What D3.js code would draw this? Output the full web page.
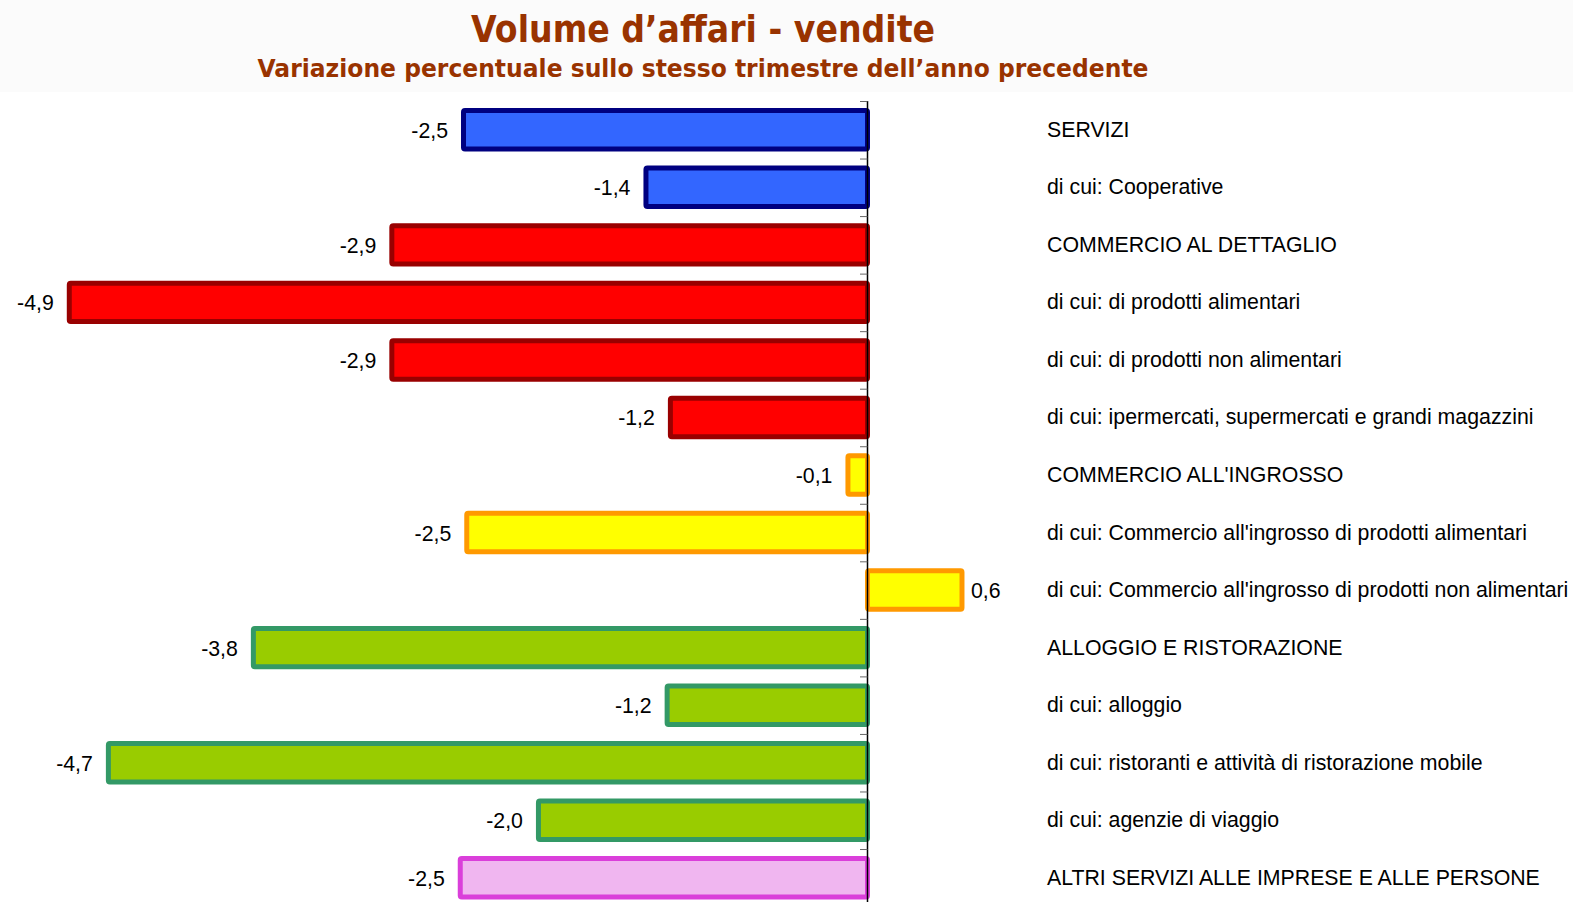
<!DOCTYPE html>
<html><head><meta charset="utf-8">
<script src="https://cdn.jsdelivr.net/npm/d3@7"></script>
<style>html,body{margin:0;padding:0;background:#fff;}svg{display:block;}</style>
</head><body>
<script>
const categories = [
  "SERVIZI",
  "di cui: Cooperative",
  "COMMERCIO AL DETTAGLIO",
  "di cui: di prodotti alimentari",
  "di cui: di prodotti non alimentari",
  "di cui: ipermercati, supermercati e grandi magazzini",
  "COMMERCIO ALL'INGROSSO",
  "di cui: Commercio all'ingrosso di prodotti alimentari",
  "di cui: Commercio all'ingrosso di prodotti non alimentari",
  "ALLOGGIO E RISTORAZIONE",
  "di cui: alloggio",
  "di cui: ristoranti e attività di ristorazione mobile",
  "di cui: agenzie di viaggio",
  "ALTRI SERVIZI ALLE IMPRESE E ALLE PERSONE"
];
const values = [-2.48, -1.36, -2.92, -4.9, -2.92, -1.21, -0.12, -2.46, 0.58, -3.77, -1.23, -4.66, -2.02, -2.5];
const groups = ["servizi","servizi","dettaglio","dettaglio","dettaglio","dettaglio","ingrosso","ingrosso","ingrosso","alloggio","alloggio","alloggio","alloggio","altri"];
const groupNames = ["servizi","dettaglio","ingrosso","alloggio","altri"];
const fills = ["#3366FF","#FF0000","#FFFF00","#99CC00","#F0B6F0"];
const strokes = ["#000080","#990000","#FF9900","#339966","#DA3FDA"];
const title = "Volume d\u2019affari - vendite";
const subtitle = "Variazione percentuale sullo stesso trimestre dell\u2019anno precedente";

const W = 1573, H = 902;
const svg = d3.select("body").append("svg").attr("width", W).attr("height", H);

svg.append("rect").attr("x",0).attr("y",0).attr("width",W).attr("height",92).attr("fill","#fbfbfb");

svg.append("text").attr("x",703).attr("y",42).attr("text-anchor","middle")
  .attr("font-family","DejaVu Sans").attr("font-weight","bold").attr("font-size",38)
  .attr("fill","#993300").attr("textLength",464).attr("lengthAdjust","spacingAndGlyphs").text(title);
svg.append("text").attr("x",703).attr("y",77).attr("text-anchor","middle")
  .attr("font-family","DejaVu Sans").attr("font-weight","bold").attr("font-size",25.5)
  .attr("fill","#993300").attr("textLength",891).attr("lengthAdjust","spacingAndGlyphs").text(subtitle);

const x = d3.scaleLinear().domain([-5, 1]).range([867.5 - 5*162.9, 867.5 + 162.9]);
const step0 = 57.54;
const y = d3.scaleBand().domain(categories).range([101, 101 + 14*step0]).paddingInner(0.332).paddingOuter(0.166);
const fillC = d3.scaleOrdinal().domain(groupNames).range(fills);
const strokeC = d3.scaleOrdinal().domain(groupNames).range(strokes);

const data = categories.map((c,i)=>({c, v: values[i], g: groups[i]}));

svg.append("g").selectAll("rect").data(data).join("rect")
  .attr("x", d => x(Math.min(0,d.v)))
  .attr("y", d => y(d.c))
  .attr("width", d => Math.abs(x(d.v) - x(0)))
  .attr("height", y.bandwidth())
  .attr("fill", d => fillC(d.g))
  .attr("stroke", d => strokeC(d.g))
  .attr("stroke-width", 5)
  .attr("rx", 1.5);

// axis at zero
const axisG = svg.append("g");
axisG.append("line").attr("x1",x(0)).attr("x2",x(0)).attr("y1",101).attr("y2",H)
  .attr("stroke","#000").attr("stroke-width",1.5);
const step = y.step();
axisG.selectAll("line.tick").data(d3.range(categories.length+1)).join("line").attr("class","tick")
  .attr("x1", x(0)-7.5).attr("x2", x(0))
  .attr("y1", i => 101 + i*step + 0.5).attr("y2", i => 101 + i*step + 0.5)
  .attr("stroke","#666").attr("stroke-width",1);

const fmt = v => v.toFixed(1).replace(".", ",");
svg.append("g").selectAll("text").data(data).join("text")
  .attr("x", d => d.v < 0 ? x(d.v) - 15.5 : x(d.v) + 9)
  .attr("y", d => y(d.c) + y.bandwidth()/2 + 1)
  .attr("dominant-baseline","central")
  .attr("text-anchor", d => d.v < 0 ? "end" : "start")
  .attr("font-family","Liberation Sans, Arial, sans-serif").attr("font-size",21.3).attr("fill","#000")
  .text(d => fmt(d.v));

svg.append("g").selectAll("text").data(data).join("text")
  .attr("x", 1047)
  .attr("y", d => y(d.c) + y.bandwidth()/2)
  .attr("dominant-baseline","central")
  .attr("font-family","Liberation Sans, Arial, sans-serif").attr("font-size",21.3).attr("fill","#000")
  .text(d => d.c);
</script>
</body></html>
